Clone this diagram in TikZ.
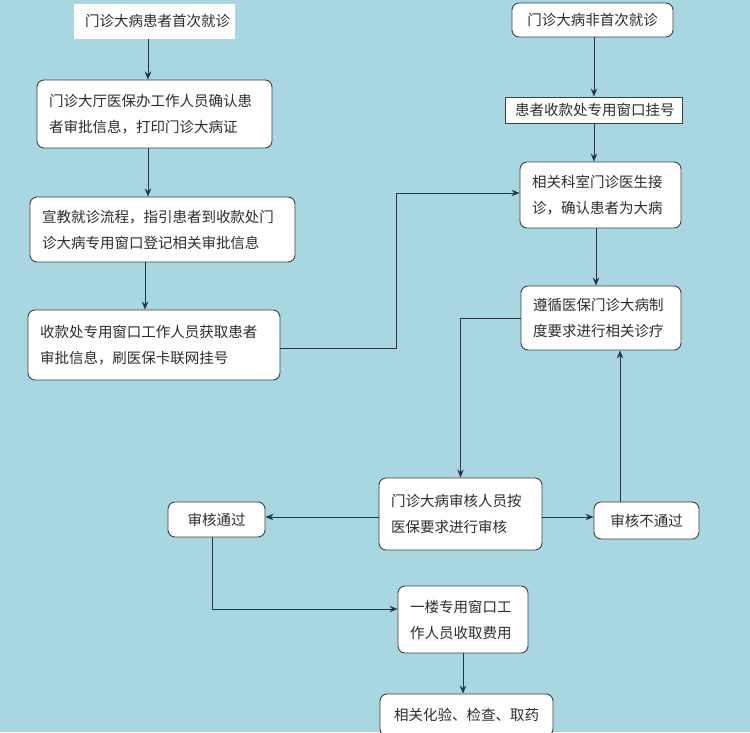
\documentclass[tikz,border=0pt]{standalone}
\usepackage{fontspec}
\newfontfamily\cjk{Noto Sans CJK SC}
\usetikzlibrary{arrows.meta,calc}
\definecolor{bg}{RGB}{168,215,226}
\definecolor{boxline}{RGB}{60,64,70}
\definecolor{linec}{RGB}{40,52,66}
\definecolor{txt}{RGB}{45,45,45}
\tikzset{
  base/.style={draw=boxline, fill=white, line width=0.9pt, text=txt,
    font=\cjk\fontsize{14.5}{26}\selectfont, inner xsep=12pt, inner ysep=3pt, align=left},
  rbox/.style={base, rounded corners=7pt},
  sbox/.style={base, rounded corners=0pt},
  arr/.style={-{Stealth[length=8pt,width=6.5pt]}, line width=1pt, draw=linec},
}
\begin{document}
\begin{tikzpicture}[x=1pt,y=-1pt]
\useasboundingbox (0,0) rectangle (750,732);
\fill[bg] (0,0) rectangle (750,732);
\clip (0,0) rectangle (750,732);
% left column
\node[sbox, draw=gray!40, text width=138pt, align=center, minimum height=36pt] (A) at (154,21) {门诊大病患者首次就诊};
\node[rbox, text width=211pt, minimum height=68pt] (B) at (154.5,114) {门诊大厅医保办工作人员确认患\\者审批信息，打印门诊大病证};
\node[rbox, text width=241pt, minimum height=65pt] (C) at (162.5,229.5) {宣教就诊流程，指引患者到收款处门\\诊大病专用窗口登记相关审批信息};
\node[rbox, text width=228pt, minimum height=70pt] (D) at (154,345) {收款处专用窗口工作人员获取患者\\审批信息，刷医保卡联网挂号};
% right column
\node[rbox, text width=137pt, align=center, minimum height=34pt] (E) at (592.5,20) {门诊大病非首次就诊};
\node[sbox, text width=157pt, inner xsep=10pt, align=center, minimum height=26pt] (F) at (593.5,110) {患者收款处专用窗口挂号};
\node[rbox, text width=137pt, minimum height=66pt] (G) at (600.5,195) {相关科室门诊医生接\\诊，确认患者为大病};
\node[rbox, text width=136pt, minimum height=64pt] (H) at (601,318) {遵循医保门诊大病制\\度要求进行相关诊疗};
% review row
\node[rbox, text width=139pt, minimum height=72pt] (I) at (460.5,514) {门诊大病审核人员按\\医保要求进行审核};
\node[rbox, text width=73pt, align=center, minimum height=35pt] (P) at (216.5,519.5) {审核通过};
\node[rbox, text width=81pt, align=center, minimum height=37pt] (N) at (646.5,520.5) {审核不通过};
% bottom
\node[rbox, text width=106pt, minimum height=67pt] (J) at (463,619.5) {一楼专用窗口工\\作人员收取费用};
\node[rbox, text width=149pt, align=center, minimum height=42pt] (K) at (466.5,715) {相关化验、检查、取药};
% helper coordinates
\coordinate (x148) at (148,0);
\coordinate (x145) at (145,0);
\coordinate (x594) at (594,0);
\coordinate (x596) at (596,0);
\coordinate (x396) at (396,0);
\coordinate (x620) at (620,0);
\coordinate (x212) at (212,0);
\coordinate (y517) at (0,517);
\coordinate (y609) at (0,609);
\coordinate (y348) at (0,348);
\coordinate (y193) at (0,193);
% connectors
\draw[arr] (A.south -| x148) -- (B.north -| x148);
\draw[arr] (B.south -| x148) -- (C.north -| x148);
\draw[arr] (C.south -| x145) -- (D.north -| x145);
\draw[arr] (E.south -| x594) -- (F.north -| x594);
\draw[arr] (F.south -| x594) -- (G.north -| x594);
\draw[arr] (G.south -| x596) -- (H.north -| x596);
\draw[arr] (D.east |- y348) -- (x396 |- y348) -- (x396 |- y193) -- (G.west |- y193);
\draw[arr] (H.west) -| (I.north);
\draw[arr] (I.west |- y517) -- (P.east |- y517);
\draw[arr] (I.east |- y517) -- (N.west |- y517);
\draw[arr] (N.north -| x620) -- (H.south -| x620);
\draw[arr] (P.south -| x212) -- (x212 |- y609) -- (J.west |- y609);
\draw[arr] (J.south) -- (J.south |- K.north);
\end{tikzpicture}
\end{document}
